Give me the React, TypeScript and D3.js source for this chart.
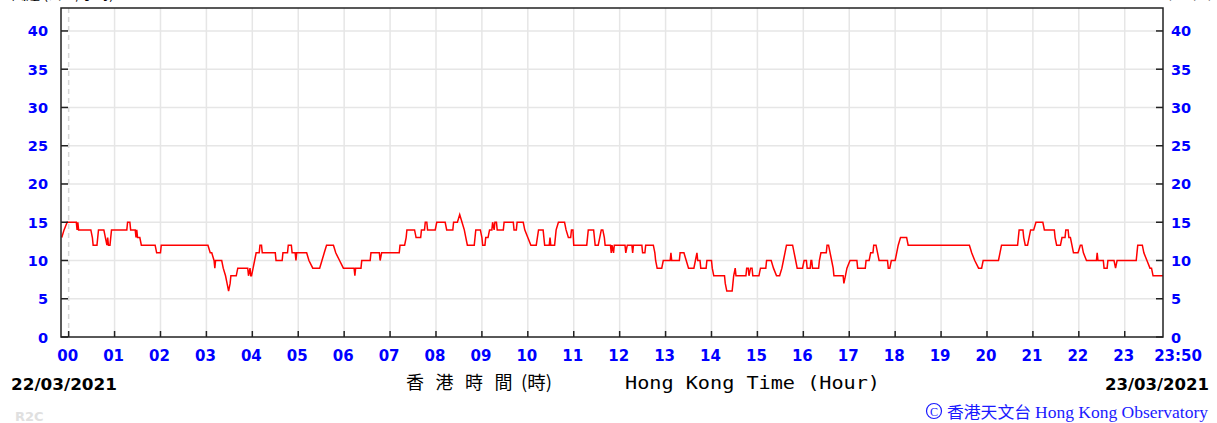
import React from "react";
import * as d3 from "d3";

// Wind speed breakpoints: minutes after 00:00 on 22/03/2021, km/h
const minutes: number[] = [
  -9, -6, -2, 10, 11, 12, 13, 29, 31, 32, 37, 38, 39, 46, 48, 50, 51, 52, 54, 56, 76, 77, 80, 81, 87, 88, 89, 90, 93, 95, 113, 115, 120, 121,
  182, 185, 187, 190, 191, 192, 200, 202, 205, 207, 209, 211, 212, 219, 221, 234, 235, 237, 238, 239, 241, 243, 245, 249, 250, 252, 253, 270, 271, 279, 280, 286, 287, 291, 292, 296, 297, 298, 311, 314, 319,
  328, 331, 334, 337, 346, 349, 354, 359, 373, 374, 375, 382, 383, 394, 395, 406, 407, 409, 432, 433, 439, 441, 442, 452, 454, 460, 461, 465, 466, 468, 469, 479, 481, 492, 494, 502, 503, 508, 511, 514, 517, 519, 521, 530, 532, 538, 540, 541, 544, 545, 548, 550, 553, 554, 556, 557, 559, 560, 568, 569, 581, 582, 585, 586, 594, 596, 600, 604, 611, 614, 620, 622, 628, 629, 630, 635, 637, 640, 648, 650, 653, 656, 657, 659, 660, 677, 679, 686, 688, 692, 694, 696, 698, 700, 701, 708, 709, 710, 712, 713, 727, 728, 730, 736, 737, 738, 749, 750, 753, 754, 764, 766, 767, 769, 775, 777, 786, 787, 788, 798, 799, 804, 807, 810, 817, 819, 821, 822, 825, 826, 833, 834, 840, 841, 843, 857, 858, 860, 867, 868, 869, 871, 872, 885, 886, 888, 889, 891, 893, 894, 902, 904, 911, 912, 918, 921, 925, 929, 932, 934, 936, 938, 946, 948, 950, 952, 959, 961, 964, 965, 969, 970, 971, 972, 980, 981, 983, 990, 991, 993, 995, 997, 999, 1000, 1012, 1013, 1015, 1017, 1021, 1030, 1031, 1041, 1042, 1046, 1048, 1051, 1052, 1055, 1057, 1059, 1070, 1071, 1073, 1075, 1080, 1082, 1084, 1087, 1095, 1097, 1177, 1180, 1184, 1189, 1193, 1195, 1215, 1217, 1219, 1240, 1241, 1242, 1247, 1248, 1250, 1253, 1255, 1257, 1261, 1264, 1273, 1275, 1288, 1289, 1291, 1296, 1298, 1302, 1303, 1306, 1307, 1309, 1311, 1313, 1319, 1322, 1324, 1326, 1330, 1343, 1344, 1345, 1352, 1353, 1357, 1358, 1366, 1368, 1370, 1395, 1396, 1397, 1403, 1405, 1409, 1413, 1415, 1417, 1430,
];
const speeds: number[] = [
  13, 14, 15, 15, 14, 15, 14, 14, 13, 12, 12, 13, 14, 14, 13, 12, 13, 12, 12, 14, 14, 15, 15, 14, 14, 13, 14, 13, 13, 12, 12, 11, 11, 12,
  12, 11, 11, 10, 9, 10, 10, 9, 8, 7, 6, 7, 8, 8, 9, 9, 8, 9, 8, 8, 9, 10, 11, 11, 12, 12, 11, 11, 10, 10, 11, 11, 12, 12, 11, 11, 10, 11, 11, 10, 9,
  9, 10, 11, 12, 12, 11, 10, 9, 9, 8, 9, 9, 10, 10, 11, 11, 10, 11, 11, 12, 12, 13, 14, 14, 13, 13, 14, 14, 15, 15, 14, 14, 15, 15, 14, 14, 15, 15, 16, 15, 14, 13, 12, 12, 14, 14, 13, 12, 12, 13, 13, 14, 14, 15, 14, 15, 15, 14, 14, 15, 15, 14, 14, 15, 15, 14, 13, 12, 12, 14, 14, 12, 12, 13, 12, 12, 14, 15, 15, 14, 13, 13, 14, 14, 12, 12, 14, 14, 12, 12, 13, 14, 14, 13, 12, 12, 11, 12, 11, 12, 12, 11, 12, 12, 11, 12, 12, 11, 11, 12, 12, 11, 10, 9, 9, 10, 10, 11, 10, 10, 11, 11, 10, 9, 9, 10, 11, 10, 10, 9, 9, 10, 10, 9, 8, 8, 7, 6, 6, 7, 8, 9, 8, 8, 9, 9, 8, 9, 9, 8, 8, 9, 9, 10, 10, 9, 8, 8, 9, 10, 11, 12, 12, 11, 10, 9, 9, 10, 10, 9, 9, 10, 10, 9, 9, 10, 11, 11, 12, 12, 11, 10, 9, 8, 8, 7, 8, 9, 10, 10, 9, 9, 10, 10, 11, 11, 12, 12, 11, 10, 10, 9, 9, 10, 10, 11, 12, 13, 13, 12, 12, 11, 10, 9, 9, 10, 10, 11, 12, 12, 13, 14, 14, 13, 12, 12, 13, 14, 14, 15, 15, 14, 14, 13, 12, 12, 13, 13, 14, 14, 13, 13, 12, 11, 11, 12, 12, 11, 10, 10, 11, 10, 10, 9, 9, 10, 10, 9, 10, 10, 11, 12, 12, 11, 10, 9, 9, 8, 8,
];

const yTicks: number[] = [0, 5, 10, 15, 20, 25, 30, 35, 40];
const hourLabels: string[] = ["00", "01", "02", "03", "04", "05", "06", "07", "08", "09", "10", "11", "12", "13", "14", "15", "16", "17", "18", "19", "20", "21", "22", "23"];
const endLabel = "23:50";
const startDate = "22/03/2021";
const endDate = "23/03/2021";

const W = 1217;
const H = 423;
const L = 61, R = 1163, T = 8, B = 337;

export default function App() {
  const x = d3.scaleLinear().domain([-10, 1430]).range([L, R]);
  const y = d3.scaleLinear().domain([0, 43]).range([B, T]);
  const pts: [number, number][] = minutes.map((m, i) => [m, speeds[i]]);
  const line = d3
    .line<[number, number]>()
    .x((d) => x(d[0]))
    .y((d) => y(d[1]))
    .curve(d3.curveLinear);

  const blue = "#0000ff";
  const grid = "#e6e6e6";
  const axisCol = "#222";
  const numFont = "'DejaVu Sans', Verdana, sans-serif";

  return (
    <svg width={W} height={H} style={{ position: "absolute", left: 0, top: 0, background: "#fff" }}>
      <rect x={0} y={0} width={W} height={H} fill="#fff" />
      {/* top unit labels, mostly cut off */}
      <text x={12} y={-1} fontSize={14} fontFamily="'Noto Sans CJK TC', sans-serif" fill="#000">風速 (公里/小時)</text>
      <text x={1213} y={-1} fontSize={14} textAnchor="end" fontFamily={numFont} fill="#000">(km/h)</text>

      {/* grid */}
      {yTicks.filter((v) => v > 0).map((v) => (
        <line key={"gy" + v} x1={L} x2={R} y1={y(v)} y2={y(v)} stroke={grid} strokeWidth={1.5} />
      ))}
      {hourLabels.slice(1).map((h, i) => (
        <line key={"gx" + h} x1={x((i + 1) * 60)} x2={x((i + 1) * 60)} y1={T} y2={B} stroke={grid} strokeWidth={1.5} />
      ))}
      <line x1={x(0)} x2={x(0)} y1={T} y2={B} stroke="#d8d8d8" strokeWidth={1.5} strokeDasharray="5,4" />

      {/* data */}
      <clipPath id="plotclip">
        <rect x={L} y={T} width={R - L} height={B - T} />
      </clipPath>
      <path d={line(pts) || ""} fill="none" stroke="#ff0000" strokeWidth={1.5} clipPath="url(#plotclip)" />

      {/* frame */}
      <rect x={L} y={T} width={R - L} height={B - T} fill="none" stroke={axisCol} strokeWidth={1.5} />

      {/* y ticks and labels */}
      {yTicks.map((v) => (
        <g key={"yt" + v}>
          <line x1={L} x2={L + 7} y1={y(v)} y2={y(v)} stroke={axisCol} strokeWidth={1.5} />
          <line x1={R - 7} x2={R} y1={y(v)} y2={y(v)} stroke={axisCol} strokeWidth={1.5} />
          <text x={48} y={y(v) + 5.5} textAnchor="end" fontSize={14.5} fontWeight="bold" fontFamily={numFont} fill={blue}>{v}</text>
          <text x={1171} y={y(v) + 5.5} textAnchor="start" fontSize={14.5} fontWeight="bold" fontFamily={numFont} fill={blue}>{v}</text>
        </g>
      ))}

      {/* x ticks and labels */}
      {hourLabels.map((h, i) => (
        <g key={"xt" + h}>
          <line x1={x(i * 60)} x2={x(i * 60)} y1={B - 6} y2={B} stroke={axisCol} strokeWidth={1.5} />
          <text x={x(i * 60) - 1} y={361} textAnchor="middle" fontSize={15} fontWeight="bold" fontFamily={numFont} fill={blue}>{h}</text>
        </g>
      ))}
      <text x={x(1430) + 15} y={361} textAnchor="middle" fontSize={15} fontWeight="bold" fontFamily={numFont} fill={blue}>{endLabel}</text>

      {/* dates */}
      <text x={11} y={390} fontSize={16} fontWeight="bold" fontFamily={numFont} fill="#000" textLength={106} lengthAdjust="spacingAndGlyphs">{startDate}</text>
      <text x={1105} y={390} fontSize={16} fontWeight="bold" fontFamily={numFont} fill="#000" textLength={104} lengthAdjust="spacingAndGlyphs">{endDate}</text>

      {/* axis title */}
      {["香", "港", "時", "間"].map((c, i) => (
        <text key={c + i} x={406 + i * 29.5} y={389} fontSize={18} fontFamily="'Noto Sans CJK TC', sans-serif" fill="#000">{c}</text>
      ))}
      <text x={521} y={389} fontSize={18} fontFamily="'Noto Sans CJK TC', sans-serif" fill="#000" textLength={31} lengthAdjust="spacingAndGlyphs">(時)</text>
      <text x={625} y={389} fontSize={18} fontFamily="'DejaVu Sans Mono', monospace" fill="#000" textLength={255} lengthAdjust="spacingAndGlyphs">Hong Kong Time (Hour)</text>

      {/* credits */}
      <text x={15} y={421} fontSize={13} fontWeight="bold" fontFamily={numFont} fill="#e0e0e0">R2C</text>
      <circle cx={934} cy={411} r={7.5} fill="none" stroke="#1a1aff" strokeWidth={1.2} />
      <text x={934} y={416} textAnchor="middle" fontSize={12} fontFamily="'Liberation Serif', serif" fill="#1a1aff">C</text>
      <text x={947} y={418} fontSize={16} fontFamily="'Noto Sans CJK TC', serif" fill="#1a1aff" textLength={84} lengthAdjust="spacingAndGlyphs">香港天文台</text>
      <text x={1035} y={418} fontSize={16} fontFamily="'Liberation Serif', serif" fill="#1a1aff" textLength={173} lengthAdjust="spacingAndGlyphs">Hong Kong Observatory</text>
    </svg>
  );
}
